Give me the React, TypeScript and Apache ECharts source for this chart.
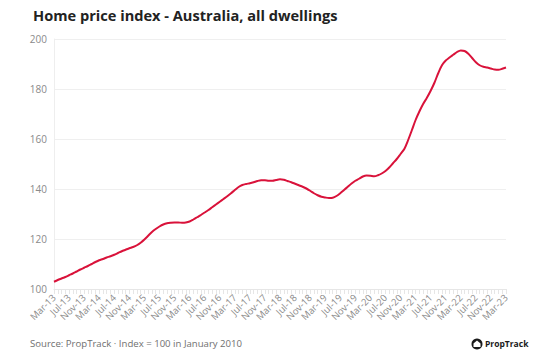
import React, { useEffect, useRef } from "react";
import * as echarts from "echarts";

const MONTHS = ["Jan", "Feb", "Mar", "Apr", "May", "Jun", "Jul", "Aug", "Sep", "Oct", "Nov", "Dec"];

// Monthly categories Mar-13 .. Mar-23
const categories: string[] = [];
for (let y = 2013; y <= 2023; y++) {
  for (let m = 0; m < 12; m++) {
    if (y === 2013 && m < 2) continue;
    if (y === 2023 && m > 2) continue;
    categories.push(`${MONTHS[m]}-${String(y).slice(2)}`);
  }
}

const indexValues = [
  102.9, 103.6, 104.2, 104.8, 105.5, 106.2, 107.0, 107.8, 108.5, 109.2,
  110.0, 110.8, 111.5, 112.0, 112.6, 113.1, 113.7, 114.4, 115.1, 115.7,
  116.3, 116.8, 117.5, 118.5, 119.8, 121.3, 122.8, 124.0, 125.0, 125.8,
  126.3, 126.5, 126.6, 126.6, 126.5, 126.6, 127.0, 127.8, 128.7, 129.6,
  130.6, 131.6, 132.7, 133.8, 134.9, 136.0, 137.1, 138.3, 139.6, 140.8,
  141.6, 142.0, 142.3, 142.7, 143.2, 143.5, 143.5, 143.3, 143.3, 143.6,
  143.9, 143.7, 143.2, 142.7, 142.1, 141.5, 140.9, 140.2, 139.3, 138.3,
  137.5, 136.9, 136.6, 136.4, 136.5, 137.2, 138.3, 139.6, 140.9, 142.2,
  143.3, 144.1, 145.0, 145.4, 145.3, 145.1, 145.5, 146.2, 147.2, 148.6,
  150.3, 152.0, 154.0, 156.0, 159.5, 163.5, 167.6, 171.0, 174.0, 176.5,
  179.3, 182.5, 186.3, 189.5, 191.4, 192.6, 193.7, 194.8, 195.4, 195.2,
  194.1, 192.4, 190.7, 189.5, 188.9, 188.6, 188.2, 187.8, 187.7, 188.1,
  188.6,
];

const yTicks = [100, 120, 140, 160, 180, 200];

const TITLE = "Home price index - Australia, all dwellings";
const SOURCE = "Source: PropTrack \u00b7 Index = 100 in January 2010";
const BRAND = "PropTrack";

const FONT = "'Open Sans', 'Noto Sans', sans-serif";

export default function App() {
  const ref = useRef<HTMLDivElement>(null);
  useEffect(() => {
    document.body.style.margin = "0";
    if (!ref.current) return;
    const chart = echarts.init(ref.current, null, { renderer: "svg" });
    chart.setOption({
      animation: false,
      backgroundColor: "#ffffff",
      textStyle: { fontFamily: FONT },
      grid: { left: 54, right: 34, top: 39, bottom: 71, containLabel: false },
      xAxis: {
        type: "category",
        data: categories,
        boundaryGap: false,
        axisLine: { show: true, lineStyle: { color: "#e6e6e6" } },
        axisTick: { show: true, interval: 0, length: 5, lineStyle: { color: "#e6e6e6" } },
        axisLabel: {
          interval: 3,
          rotate: 45,
          color: "#8a8a8a",
          fontSize: 9.5,
          fontFamily: FONT,
          margin: 7,
        },
        splitLine: { show: false },
      },
      yAxis: {
        type: "value",
        min: yTicks[0],
        max: yTicks[yTicks.length - 1],
        interval: 20,
        axisLine: { show: true, lineStyle: { color: "#eeeeee" } },
        axisTick: { show: false },
        axisLabel: { color: "#8a8a8a", fontSize: 10, fontFamily: FONT, margin: 7 },
        splitLine: { show: true, lineStyle: { color: "#efefef" } },
      },
      series: [
        {
          type: "line",
          data: indexValues,
          smooth: 0.3,
          showSymbol: false,
          lineStyle: { color: "#d9123a", width: 2 },
        },
      ],
      graphic: [
        {
          type: "text",
          left: 33,
          top: 7,
          style: {
            text: TITLE,
            fill: "#222222",
            font: `bold 14.6px ${FONT}`,
          },
        },
        {
          type: "text",
          left: 30,
          top: 338,
          style: {
            text: SOURCE,
            fill: "#6f6f6f",
            font: `9.6px ${FONT}`,
          },
        },
        {
          type: "circle",
          shape: { cx: 477, cy: 344, r: 5.5 },
          style: { fill: "#1a1a1a" },
        },
        {
          type: "polygon",
          shape: { points: [[477, 340.5], [480.5, 343.5], [480.5, 347], [473.5, 347], [473.5, 343.5]] },
          style: { fill: "#ffffff" },
        },
        {
          type: "text",
          left: 485,
          top: 339,
          style: {
            text: BRAND,
            fill: "#1a1a1a",
            font: `bold 8.5px ${FONT}`,
          },
        },
      ],
    });
    return () => chart.dispose();
  }, []);
  return <div ref={ref} style={{ width: 540, height: 360 }} />;
}
